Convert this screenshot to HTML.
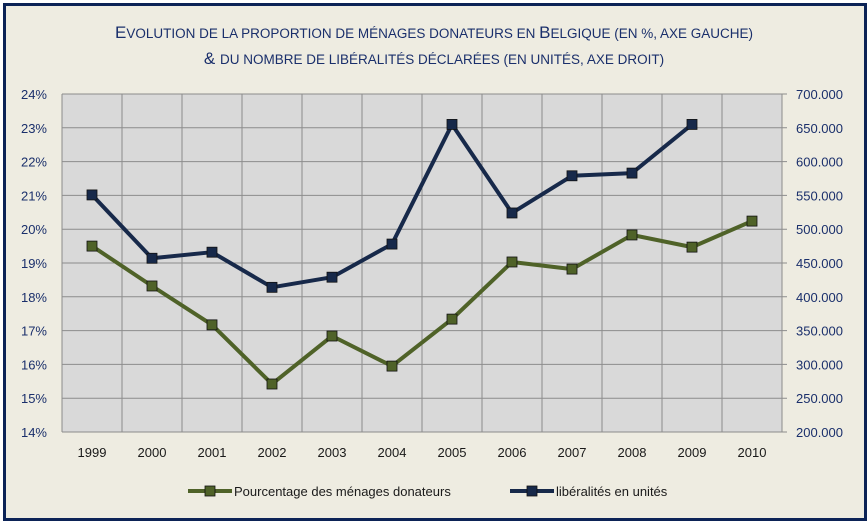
<!DOCTYPE html>
<html><head><meta charset="utf-8"><style>
body{margin:0;width:868px;height:524px;overflow:hidden;background:#fff}
#frame{position:absolute;left:3px;top:3px;width:858px;height:512px;border:3px solid #0c2356;background:#eeece1}
svg{position:absolute;left:0;top:0}
text{font-family:"Liberation Sans",sans-serif}
</style></head><body>
<div id="frame"></div>
<svg id="c" width="868" height="524">
<text x="434" y="38" text-anchor="middle" fill="#1a2f6b" font-size="17">E<tspan font-size="13.5">VOLUTION DE LA PROPORTION DE MÉNAGES DONATEURS EN </tspan>B<tspan font-size="13.5">ELGIQUE (EN %, AXE GAUCHE)</tspan></text>
<text x="434" y="64" text-anchor="middle" fill="#1a2f6b" font-size="17">&amp; <tspan font-size="13.5">DU NOMBRE DE LIBÉRALITÉS DÉCLARÉES (EN UNITÉS, AXE DROIT)</tspan></text>
</svg>
<script>
const years=["1999","2000","2001","2002","2003","2004","2005","2006","2007","2008","2009","2010"];
const pctValues=[19.5,18.32,17.17,15.42,16.84,15.95,17.34,19.03,18.82,19.83,19.47,20.24];
const libValues=[550700,457000,466000,414000,429000,478000,655000,524000,579000,583000,655000,null];
const leftTicks=[14,15,16,17,18,19,20,21,22,23,24];
const rightTicks=[200000,250000,300000,350000,400000,450000,500000,550000,600000,650000,700000];
const X0=62,X1=782,Y0=432,Y1=94;
const NS="http://www.w3.org/2000/svg",svg=document.getElementById('c');
function el(t,a,p){const e=document.createElementNS(NS,t);for(const k in a)e.setAttribute(k,a[k]);(p||svg).appendChild(e);return e;}
const bw=(X1-X0)/years.length;
const xs=i=>X0+bw*(i+0.5);
const yl=v=>Y0-(v-14)/(24-14)*(Y0-Y1);
const yr=v=>Y0-(v-200000)/(700000-200000)*(Y0-Y1);
const fmt=v=>Math.floor(v/1000)+"."+String(v%1000).padStart(3,"0");
let r=el('rect',{x:X0,y:Y1,width:X1-X0,height:Y0-Y1,fill:'#d9d9d9'});


leftTicks.forEach((t,i)=>{const y=yl(t);
 let g=el('line',{x1:X0,x2:X1+5,y1:y,y2:y,stroke:'#8c8c8c','stroke-width':1});
 
 
 let tx=el('text',{x:47,y:y+5,'text-anchor':'end',fill:'#1a2f6b','font-size':13});tx.textContent=t+"%";
 
 
});
rightTicks.forEach(t=>{const y=yr(t);
 let tx=el('text',{x:796,y:y+5,fill:'#1a2f6b','font-size':13});tx.textContent=fmt(t);
 
 
});
for(let i=0;i<=years.length;i++){const x=X0+bw*i;
 let g=el('line',{x1:x,x2:x,y1:Y1,y2:Y0,stroke:'#8c8c8c','stroke-width':1});
 
 }
el('line',{x1:X1,x2:X1,y1:Y1,y2:Y0,stroke:'#8c8c8c'});
years.forEach((yv,i)=>{let tx=el('text',{x:xs(i),y:457,'text-anchor':'middle',fill:'#1a1a1a','font-size':13});tx.textContent=yv;
 
 });
function series(vals,yf,col,name){
 const pts=[];vals.forEach((v,i)=>{if(v!=null)pts.push([xs(i),yf(v)]);});
 let p=el('polyline',{points:pts.map(p=>p.join(',')).join(' '),fill:'none',stroke:col,'stroke-width':4,'stroke-linejoin':'round'});
 
 
 pts.forEach(([x,y])=>{let m=el('rect',{x:x-5,y:y-5,width:10,height:10,fill:col,stroke:'#111','stroke-width':0.8});
  
  });
}
series(pctValues,yl,'#4f6228','pct-series');
series(libValues,yr,'#17294a','lib-series');
function legend(x,col,label,name){
 let l=el('line',{x1:x,x2:x+44,y1:491,y2:491,stroke:col,'stroke-width':4});
 
 
 el('rect',{x:x+17,y:486,width:10,height:10,fill:col,stroke:'#111','stroke-width':0.8});
 let t=el('text',{x:x+46,y:496,fill:'#1a1a1a','font-size':13});t.textContent=label;
 
 
}
legend(188,'#4f6228','Pourcentage des ménages donateurs','legend-pct');
legend(510,'#17294a','libéralités en unités','legend-lib');
</script>
</body></html>
